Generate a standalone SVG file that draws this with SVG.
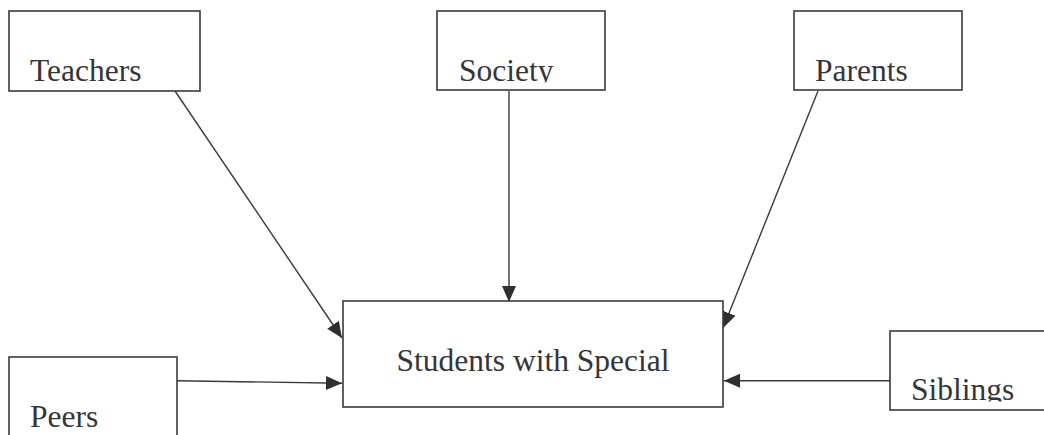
<svg xmlns="http://www.w3.org/2000/svg" width="1044" height="435" viewBox="0 0 1044 435">
<style>
.box{fill:#fff;stroke:#3a3a3c;stroke-width:1.6}
.lbl{font-family:"Liberation Serif",serif;font-size:31.5px;fill:#353537}
.con{stroke:#3a3a3c;stroke-width:1.4;fill:none;marker-end:url(#ah)}
</style>
<defs>
<marker id="ah" markerUnits="userSpaceOnUse" markerWidth="18" markerHeight="16" refX="16" refY="7" orient="auto">
<path d="M0,0 L16,7 L0,14 z" fill="#2f2f31"/>
</marker>
<clipPath id="cSoc"><rect x="437" y="0" width="170" height="82.5"/></clipPath>
<clipPath id="cSib"><rect x="890" y="330" width="160" height="71.5"/></clipPath>
</defs>
<rect width="1044" height="435" fill="#fff"/>
<g id="connectors">
<line class="con" x1="175" y1="91" x2="342" y2="338"/>
<line class="con" x1="509" y1="91" x2="509" y2="302"/>
<line class="con" x1="818" y1="91" x2="723" y2="328"/>
<line class="con" x1="177" y1="380.7" x2="342" y2="383.3"/>
<line class="con" x1="890" y1="380.7" x2="724" y2="380.7"/>
</g>
<g id="teachers">
<rect class="box" x="9" y="11" width="191" height="80"/>
<text class="lbl" x="30" y="81">Teachers</text>
</g>
<g id="society">
<rect class="box" x="437" y="11" width="168" height="79"/>
<text class="lbl" x="459" y="81" clip-path="url(#cSoc)">Society</text>
</g>
<g id="parents">
<rect class="box" x="794" y="11" width="168" height="79"/>
<text class="lbl" x="815" y="81">Parents</text>
</g>
<g id="students">
<rect class="box" x="343" y="301" width="380" height="106"/>
<text class="lbl" x="533" y="371" text-anchor="middle">Students with Special</text>
</g>
<g id="peers">
<rect class="box" x="9" y="357" width="168" height="90"/>
<text class="lbl" x="30" y="427">Peers</text>
</g>
<g id="siblings">
<rect class="box" x="890" y="331" width="170" height="79"/>
<text class="lbl" x="911" y="400" clip-path="url(#cSib)">Siblings</text>
</g>
</svg>
